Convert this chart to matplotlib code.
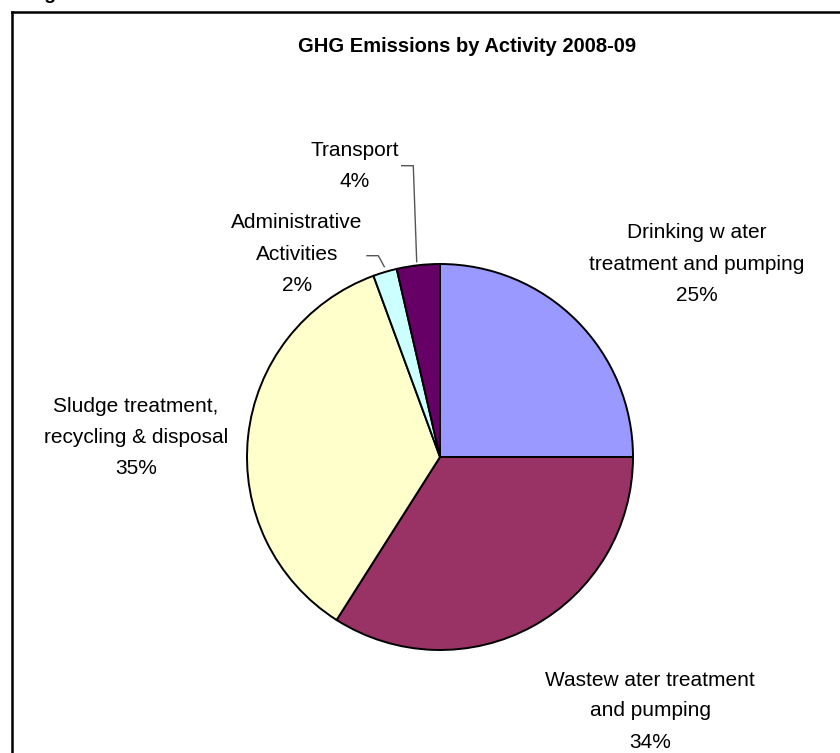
import matplotlib.pyplot as plt
from matplotlib.lines import Line2D

plt.rcParams['font.family'] = ['Liberation Sans', 'DejaVu Sans']

# slice data (clockwise from 12 o'clock)
activities = ['Drinking w ater\ntreatment and pumping',
              'Wastew ater treatment\nand pumping',
              'Sludge treatment,\nrecycling & disposal',
              'Administrative\nActivities',
              'Transport']
shares = [25.0, 34.0, 35.4, 2.0, 3.6]
pct_labels = ['25%', '34%', '35%', '2%', '4%']
colors = ['#9999FF', '#993366', '#FFFFCC', '#CCFFFF', '#660066']

W, H = 840, 753
fig = plt.figure(figsize=(W / 100, H / 100), dpi=100)
ax = fig.add_axes([0, 0, 1, 1])
ax.set_xlim(0, W)
ax.set_ylim(0, H)
ax.set_aspect('equal')
ax.axis('off')

# pixel helper: y measured from the top
def py(y):
    return H - y

cx, cy, r = 440, 457, 193
ax.pie(shares, colors=colors, startangle=90, counterclock=False,
       center=(cx, py(cy)), radius=r,
       wedgeprops=dict(edgecolor='black', linewidth=1.4))
ax.set_xlim(0, W)
ax.set_ylim(0, H)

label_pos = [(697, 264), (650, 711), (136, 437), (297, 254), (355, 166)]
for name, pct, (x, y) in zip(activities, pct_labels, label_pos):
    ax.text(x, py(y), name + '\n' + pct, ha='center', va='center',
            fontsize=15, linespacing=1.8)

# leader lines for the small slices
lead_tr = [(401.7, 165.7), (413.3, 165.7), (416.7, 261.7)]
lead_ad = [(367, 255.7), (378.3, 255.7), (384.3, 266.7)]
for pts in (lead_tr, lead_ad):
    ax.plot([p[0] for p in pts], [py(p[1]) for p in pts],
            color='#555555', lw=1.0)

ax.text(467, py(46), 'GHG Emissions by Activity 2008-09', ha='center',
        va='center', fontsize=14.5, fontweight='bold')

# frame around the chart (top and left edges are visible)
fig.add_artist(Line2D([12 / W, 1], [1 - 12 / H, 1 - 12 / H], color='black', lw=1.8))
fig.add_artist(Line2D([12 / W, 12 / W], [0, 1 - 12 / H], color='black', lw=1.8))

# caption text cut off above the frame
fig.text(28 / W, 1 + 1 / H, 'Figure', fontsize=14, fontweight='bold', va='baseline')

fig.savefig('out.png', dpi=100)
